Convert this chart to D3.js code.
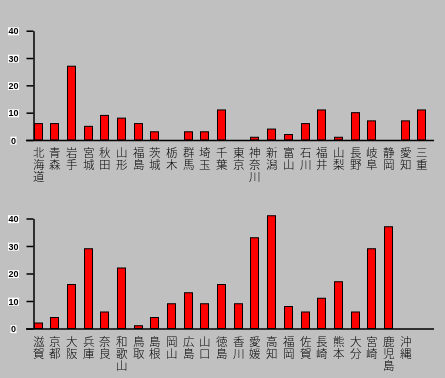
<!DOCTYPE html>
<html><head><meta charset="utf-8">
<script src="https://cdn.jsdelivr.net/npm/d3@7"></script>
<style>
html,body{margin:0;padding:0;background:#c0c0c0;}
svg{display:block;will-change:transform;}
.cat{writing-mode:vertical-rl;text-orientation:upright;font-family:"Noto Sans CJK JP",sans-serif;font-weight:300;font-size:11.5px;fill:#000;}
</style></head>
<body>
<svg id="c" width="445" height="378"></svg>
<script>
const catsTop = ["北海道","青森","岩手","宮城","秋田","山形","福島","茨城","栃木","群馬","埼玉","千葉","東京","神奈川","新潟","富山","石川","福井","山梨","長野","岐阜","静岡","愛知","三重"];
const valsTop = [6,6,27,5,9,8,6,3,0,3,3,11,0,1,4,2,6,11,1,10,7,0,7,11];
const catsBottom = ["滋賀","京都","大阪","兵庫","奈良","和歌山","鳥取","島根","岡山","広島","山口","徳島","香川","愛媛","高知","福岡","佐賀","長崎","熊本","大分","宮崎","鹿児島","沖縄",""];
const valsBottom = [2,4,16,29,6,22,1,4,9,13,9,16,9,33,41,8,6,11,17,6,29,37,0,null];
const yTicks = [0,10,20,30,40];

const svg = d3.select("#c");

function panel(cats, vals, base, top) {
  const g = svg.append("g");
  const x = d3.scaleBand().domain(cats.map((c,i)=>i)).range([33.5, 434]).paddingInner(0).paddingOuter(0);
  const y = d3.scaleLinear().domain([0,40]).range([base, top]);
  g.selectAll("rect.bar").data(vals.map((v,i)=>({v,i})).filter(d=>d.v))
    .enter().append("rect").attr("class","bar")
    .attr("x", d=>Math.round(x(d.i))+0.5)
    .attr("y", d=>y(d.v))
    .attr("width", Math.round(x.bandwidth()/2))
    .attr("height", d=>base - y(d.v))
    .attr("fill","#ff0000").attr("stroke","#000").attr("stroke-width",1);
  g.append("line").attr("x1",26).attr("x2",434).attr("y1",base+0.5).attr("y2",base+0.5)
    .attr("stroke","#000").attr("stroke-width",1.5);
  const ax = g.append("g").attr("transform","translate(33.5,0)")
    .call(d3.axisLeft(y).tickValues(yTicks).tickSizeInner(7).tickSizeOuter(0).tickFormat(d3.format("d")));
  ax.select(".domain").attr("stroke","#000").attr("stroke-width",1.5);
  ax.selectAll(".tick line").attr("stroke","#000").attr("stroke-width",1.5);
  ax.selectAll(".tick text").attr("x",-20).attr("text-anchor","middle")
    .attr("font-family","Liberation Sans, Arial, sans-serif").attr("font-weight","bold")
    .attr("font-size",9).attr("fill","#000").attr("dy","0.35em");
  ax.selectAll(".tick").each(function(){
    const t = d3.select(this).select("text");
    const bb = t.node().getBBox();
    d3.select(this).insert("rect","text").attr("x",bb.x-0.5).attr("y",bb.y+1).attr("width",bb.width+1).attr("height",bb.height-2).attr("fill","#fff");
  });
  const lg = g.append("g");
  cats.forEach((c,i)=>{
    const cx = Math.round(x(i)) + x.bandwidth()/4 + 0.5;
    Array.from(c).forEach((ch,k)=>{
      lg.append("text").attr("class","cat").attr("x",cx).attr("y", base + 7 + k*12).text(ch);
    });
  });
}

panel(catsTop, valsTop, 140, 30.7);
panel(catsBottom, valsBottom, 328.5, 218.5);
</script>
</body></html>
